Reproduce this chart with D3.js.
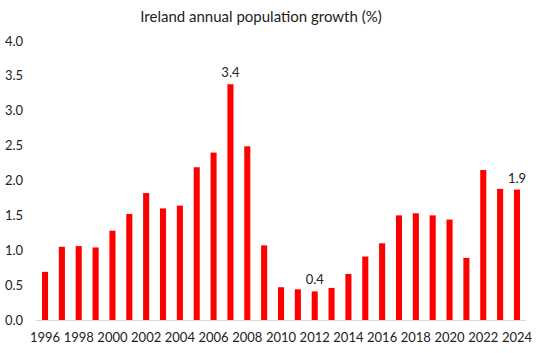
<!DOCTYPE html>
<html lang="en">
<head>
<meta charset="UTF-8">
<title>Ireland annual population growth</title>
<script src="https://d3js.org/d3.v7.min.js"></script>
<style>
  body { margin: 0; background: #fff; }
  text { font-family: Lato, "Open Sans", sans-serif; fill: #222; }
</style>
</head>
<body>
<div id="chart"></div>
<script>
// population growth, % per year
const years = d3.range(1996, 2025);
const growth = [0.69, 1.05, 1.06, 1.04, 1.28, 1.52, 1.82, 1.60, 1.64, 2.19,
                2.40, 3.38, 2.49, 1.07, 0.47, 0.44, 0.41, 0.46, 0.66, 0.91,
                1.10, 1.50, 1.53, 1.50, 1.44, 0.89, 2.15, 1.88, 1.87];
const yTicks = [0, 0.5, 1, 1.5, 2, 2.5, 3, 3.5, 4];
const labelled = {2007: "3.4", 2012: "0.4", 2024: "1.9"};

const width = 540, height = 353;
const svg = d3.select("#chart").append("svg")
    .attr("width", width).attr("height", height);

const x = d3.scaleBand()
    .domain(years)
    .range([36.6, 525.4])
    .paddingInner(0.64)
    .paddingOuter(0.32);

const y = d3.scaleLinear().domain([0, 4]).range([320, 41]);

// title
svg.append("text")
    .attr("x", 261).attr("y", 22)
    .attr("text-anchor", "middle")
    .style("font-size", "15px")
    .text("Ireland annual population growth (%)");

// y labels
svg.selectAll(".ytick")
    .data(yTicks)
    .enter().append("text")
    .attr("x", 5)
    .attr("y", d => y(d))
    .attr("dy", "0.35em")
    .style("font-size", "13px")
    .text(d => d.toFixed(1));

// baseline
svg.append("line")
    .attr("x1", 36).attr("x2", 526)
    .attr("y1", y(0) + 0.5).attr("y2", y(0) + 0.5)
    .attr("stroke", "#d9d9d9");

// bars
svg.selectAll("rect")
    .data(years)
    .enter().append("rect")
    .attr("x", d => x(d))
    .attr("width", x.bandwidth())
    .attr("y", (d, i) => y(growth[i]))
    .attr("height", (d, i) => y(0) - y(growth[i]))
    .attr("fill", "#ff0000");

// x labels, every other year
svg.selectAll(".xtick")
    .data(years.filter(d => d % 2 === 0))
    .enter().append("text")
    .attr("x", d => x(d) + x.bandwidth() / 2)
    .attr("y", 342)
    .attr("text-anchor", "middle")
    .style("font-size", "13px")
    .text(d => d);

// value labels
svg.selectAll(".vlabel")
    .data(years.filter(d => labelled[d]))
    .enter().append("text")
    .attr("x", d => x(d) + x.bandwidth() / 2)
    .attr("y", d => y(growth[years.indexOf(d)]) - 7)
    .attr("text-anchor", "middle")
    .style("font-size", "13px")
    .text(d => labelled[d]);
</script>
</body>
</html>
